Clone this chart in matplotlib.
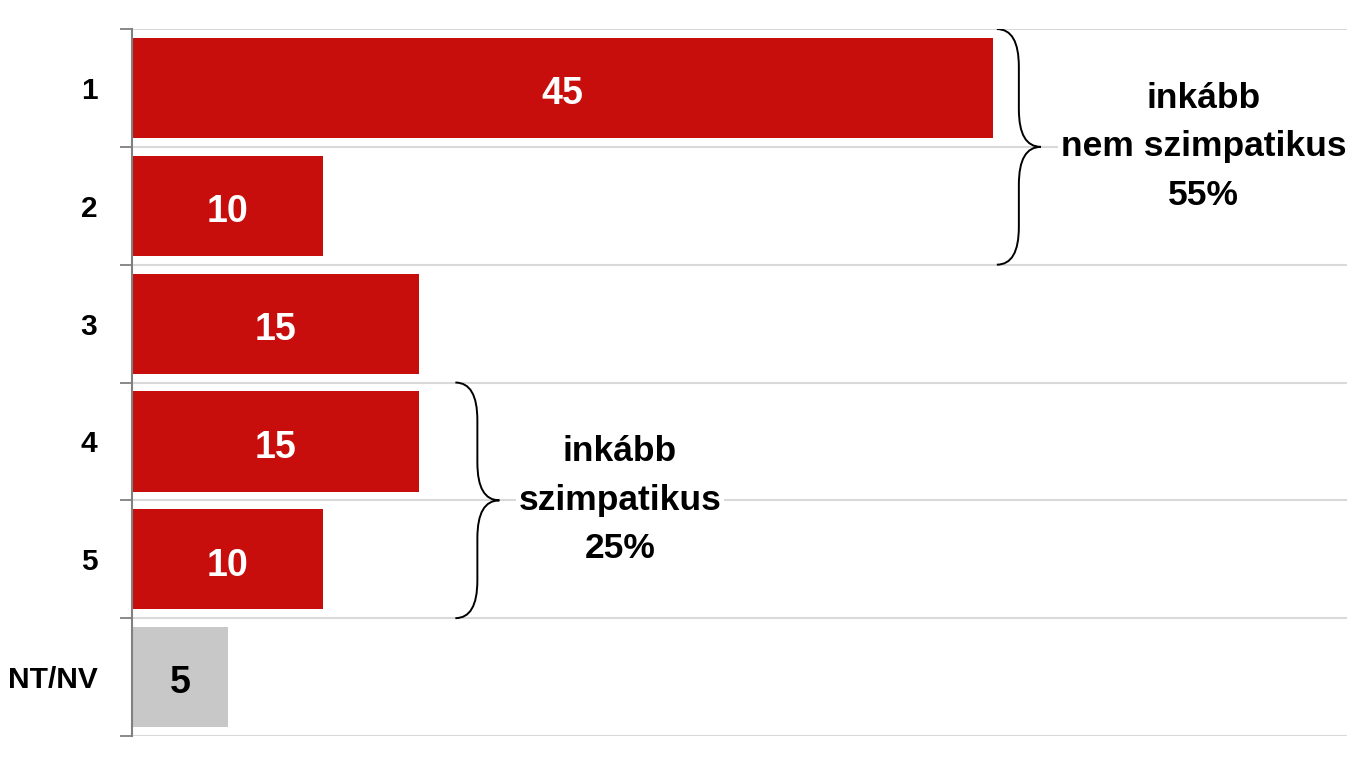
import numpy as np
import matplotlib.pyplot as plt
import matplotlib.patches as mpatches
from matplotlib.path import Path

plt.rcParams['font.family'] = ['Liberation Sans', 'DejaVu Sans']

categories = ["1", "2", "3", "4", "5", "NT/NV"]
values = [45, 10, 15, 15, 10, 5]
colors = ["#C80D0D"] * 5 + ["#C8C8C8"]
label_colors = ["white"] * 5 + ["black"]

groups = [
    ("inkább\nnem szimpatikus\n55%", 0, 1),
    ("inkább\nszimpatikus\n25%", 3, 4),
]


def brace(ax, x0, y_top, y_bot, w, h):
    # jobbra néző kapcsos zárójel
    xm = x0 + w / 2
    ym = (y_top + y_bot) / 2
    verts = [
        (x0, y_top), (xm, y_top), (xm, y_top + h),
        (xm, ym - h),
        (xm, ym), (x0 + w, ym),
        (xm, ym), (xm, ym + h),
        (xm, y_bot - h),
        (xm, y_bot), (x0, y_bot),
    ]
    codes = [Path.MOVETO, Path.CURVE3, Path.CURVE3,
             Path.LINETO,
             Path.CURVE3, Path.CURVE3,
             Path.CURVE3, Path.CURVE3,
             Path.LINETO,
             Path.CURVE3, Path.CURVE3]
    ax.add_patch(mpatches.PathPatch(Path(verts, codes), fill=False,
                                    lw=1.4, color="black", zorder=4))


fig = plt.figure(figsize=(13.47, 7.58), dpi=100)
ax = fig.add_axes([0.098, 0.029, 0.902, 0.9327])

y = np.arange(len(categories))
ax.barh(y, values, height=0.85, color=colors, zorder=3)

for i, v in enumerate(values):
    ax.text(v / 2, i + 0.02, str(v), ha="center", va="center_baseline",
            fontsize=27, fontweight="bold", color=label_colors[i], zorder=5)

ax.set_xlim(0, 63.5)
ax.set_ylim(5.5, -0.5)

ax.set_yticks(y)
ax.set_yticklabels(categories, fontsize=21.5, fontweight="bold")
ax.tick_params(axis="y", which="major", length=0, pad=25)
ax.set_yticks(np.arange(-0.5, 6, 1), minor=True)
ax.tick_params(axis="y", which="minor", length=9, width=1.3,
               color="#808080", direction="out")
ax.set_xticks([])
ax.grid(True, which="minor", axis="y", color="#D9D9D9", lw=1.5, zorder=0)

for s in ["top", "right", "bottom"]:
    ax.spines[s].set_visible(False)
ax.spines["left"].set_color("#808080")
ax.spines["left"].set_linewidth(1.5)
ax.spines["left"].set_zorder(6)

# zárójelek és feliratok
brace(ax, 45.2, -0.5, 1.5, 2.3, 0.32)
ax.text(56.0, 0.5, groups[0][0], ha="center", va="center", fontsize=25.5,
        fontweight="bold", linespacing=1.6, zorder=5,
        bbox=dict(fc="white", ec="none", pad=2))

brace(ax, 16.9, 2.5, 4.5, 2.3, 0.32)
ax.text(25.5, 3.5, groups[1][0], ha="center", va="center", fontsize=25.5,
        fontweight="bold", linespacing=1.6, zorder=5,
        bbox=dict(fc="white", ec="none", pad=2))

fig.savefig("out.png", dpi=100)
